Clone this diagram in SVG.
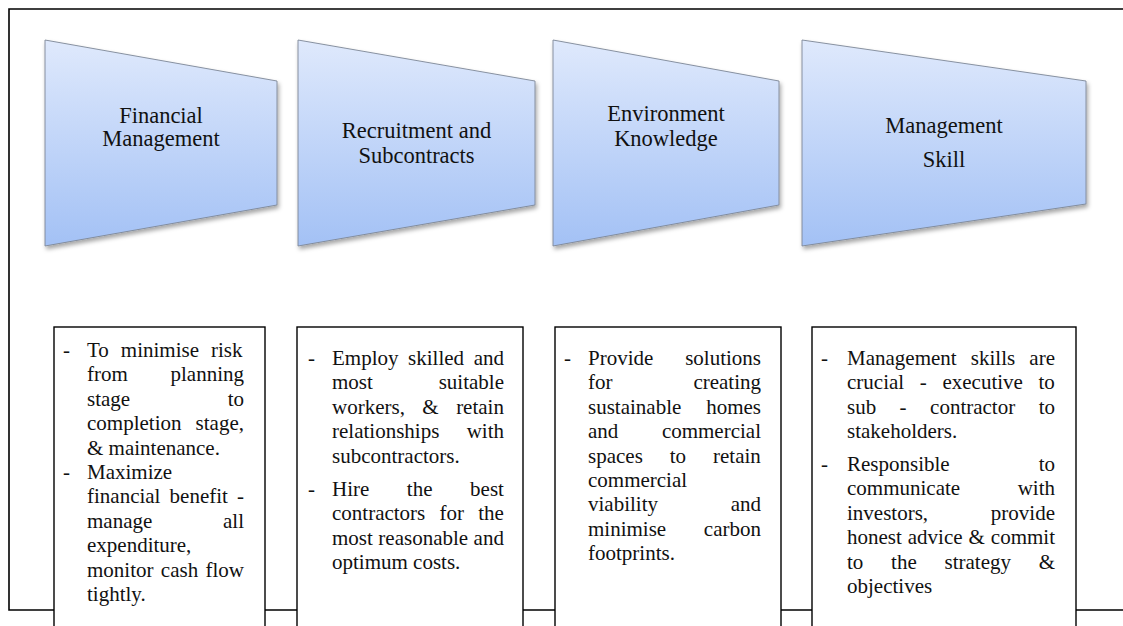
<svg xmlns="http://www.w3.org/2000/svg" width="1123" height="626" viewBox="0 0 1123 626">
<defs>
<linearGradient id="g" x1="0" y1="0" x2="0" y2="1">
<stop offset="0" stop-color="#dfe9fc"/>
<stop offset="1" stop-color="#a3c1f5"/>
</linearGradient>
<filter id="sh" x="-10%" y="-10%" width="125%" height="130%">
<feDropShadow dx="1.5" dy="3" stdDeviation="2" flood-color="#000" flood-opacity="0.35"/>
</filter>
</defs>
<style>
.trap{fill:url(#g);stroke:#7d8796;stroke-width:0.9;filter:url(#sh)}
.box{fill:#fff;stroke:#000;stroke-width:1.4}
.frame{fill:none;stroke:#000;stroke-width:1.6}
.t{font-family:"Liberation Serif","Times New Roman",serif;font-size:22.5px;fill:#111;text-anchor:middle}
.b{font-family:"Liberation Serif","Times New Roman",serif;font-size:21px;fill:#111}
.e{text-anchor:end}
</style>
<g id="connectors">
<path class="frame" d="M1123,9 H9 V610 H1123"/>
</g>
<g id="trap1">
<polygon class="trap" points="45,40 277,81 277,205 45,246"/>
<text class="t" x="161" y="123">Financial</text>
<text class="t" x="161" y="146">Management</text>
</g>
<g id="trap2">
<polygon class="trap" points="298,40 535,81 535,205 298,246"/>
<text class="t" x="416.5" y="138">Recruitment and</text>
<text class="t" x="416.5" y="162.5">Subcontracts</text>
</g>
<g id="trap3">
<polygon class="trap" points="553,40 779,81 779,205 553,246"/>
<text class="t" x="666" y="121">Environment</text>
<text class="t" x="666" y="145.5">Knowledge</text>
</g>
<g id="trap4">
<polygon class="trap" points="802,40 1086,81 1086,204 802,246"/>
<text class="t" x="944" y="133">Management</text>
<text class="t" x="944" y="166.5">Skill</text>
</g>
<g id="box1">
<rect class="box" x="54" y="327" width="211" height="320"/>
<text class="b" x="63" y="357">-</text>
<text class="b" x="87" y="357" word-spacing="6.7">To minimise risk</text>
<text class="b" x="87" y="381.4">from</text><text class="b e" x="244" y="381.4">planning</text>
<text class="b" x="87" y="405.8">stage</text><text class="b e" x="244" y="405.8">to</text>
<text class="b" x="87" y="430.2">completion</text><text class="b e" x="244" y="430.2">stage,</text>
<text class="b" x="87" y="454.6">&amp; maintenance.</text>
<text class="b" x="63" y="479">-</text>
<text class="b" x="87" y="479">Maximize</text>
<text class="b" x="87" y="503.4" word-spacing="3.85">financial benefit -</text>
<text class="b" x="87" y="527.8">manage</text><text class="b e" x="244" y="527.8">all</text>
<text class="b" x="87" y="552.2">expenditure,</text>
<text class="b" x="87" y="576.6" word-spacing="2.1">monitor cash flow</text>
<text class="b" x="87" y="601">tightly.</text>
</g>
<g id="box2">
<rect class="box" x="297" y="327" width="226" height="320"/>
<text class="b" x="308" y="365">-</text>
<text class="b" x="332" y="365" word-spacing="4.35">Employ skilled and</text>
<text class="b" x="332" y="389.4">most</text><text class="b e" x="504" y="389.4">suitable</text>
<text class="b" x="332" y="413.8" word-spacing="12.2">workers, &amp; retain</text>
<text class="b" x="332" y="438.2">relationships</text><text class="b e" x="504" y="438.2">with</text>
<text class="b" x="332" y="462.6">subcontractors.</text>
<text class="b" x="308" y="496">-</text>
<text class="b" x="332" y="496" word-spacing="32.3">Hire the best</text>
<text class="b" x="332" y="520.4" word-spacing="9">contractors for the</text>
<text class="b" x="332" y="544.8" word-spacing="0.25">most reasonable and</text>
<text class="b" x="332" y="569.2">optimum costs.</text>
</g>
<g id="box3">
<rect class="box" x="555" y="327" width="226" height="320"/>
<text class="b" x="564" y="365">-</text>
<text class="b" x="588" y="365">Provide</text><text class="b e" x="761" y="365">solutions</text>
<text class="b" x="588" y="389.4">for</text><text class="b e" x="761" y="389.4">creating</text>
<text class="b" x="588" y="413.8">sustainable</text><text class="b e" x="761" y="413.8">homes</text>
<text class="b" x="588" y="438.2">and</text><text class="b e" x="761" y="438.2">commercial</text>
<text class="b" x="588" y="462.6" word-spacing="21.7">spaces to retain</text>
<text class="b" x="588" y="487">commercial</text>
<text class="b" x="588" y="511.4">viability</text><text class="b e" x="761" y="511.4">and</text>
<text class="b" x="588" y="535.8">minimise</text><text class="b e" x="761" y="535.8">carbon</text>
<text class="b" x="588" y="560.2">footprints.</text>
</g>
<g id="box4">
<rect class="box" x="812" y="327" width="264" height="320"/>
<text class="b" x="821" y="365">-</text>
<text class="b" x="847" y="365" word-spacing="8.95">Management skills are</text>
<text class="b" x="847" y="389.4" word-spacing="10.4">crucial - executive to</text>
<text class="b" x="847" y="413.8" word-spacing="18.2">sub - contractor to</text>
<text class="b" x="847" y="438.2">stakeholders.</text>
<text class="b" x="821" y="471">-</text>
<text class="b" x="847" y="471">Responsible</text><text class="b e" x="1055" y="471">to</text>
<text class="b" x="847" y="495.4">communicate</text><text class="b e" x="1055" y="495.4">with</text>
<text class="b" x="847" y="519.8">investors,</text><text class="b e" x="1055" y="519.8">provide</text>
<text class="b" x="847" y="544.2" word-spacing="0.7">honest advice &amp; commit</text>
<text class="b" x="847" y="568.6" word-spacing="22.5">to the strategy &amp;</text>
<text class="b" x="847" y="593">objectives</text>
</g>
</svg>
